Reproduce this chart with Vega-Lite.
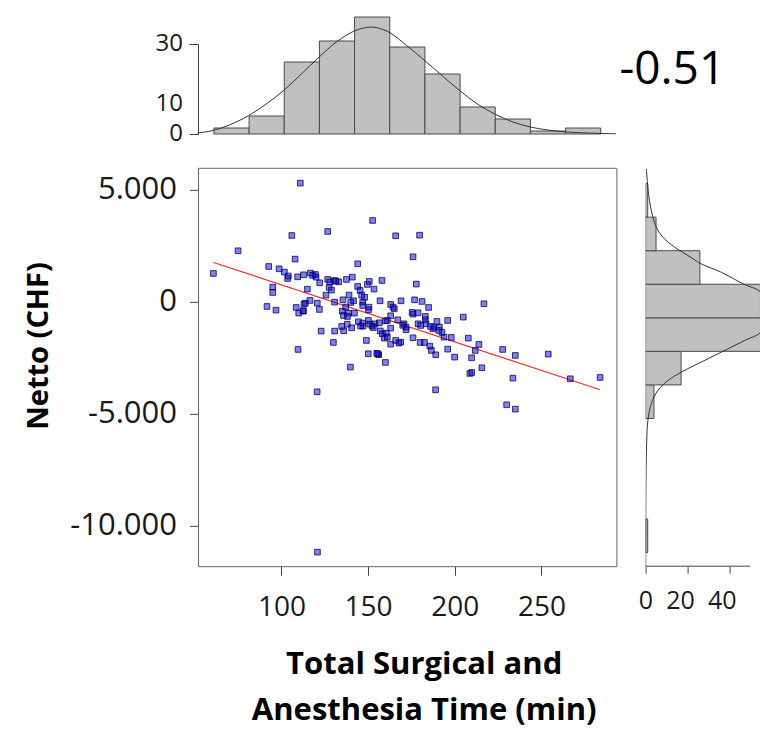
{
  "$schema": "https://vega.github.io/schema/vega-lite/v6.json",
  "padding": {"left": 24, "top": 16, "right": 0, "bottom": 6},
  "background": "white",
  "config": {
    "view": {"stroke": null},
    "font": "Open Sans",
    "axis": {"grid": false, "labelFont": "Open Sans", "titleFont": "Open Sans", "labelColor": "#1a1a1a", "titleColor": "#000000", "tickColor": "#444444", "domainColor": "#444444", "labelOverlap": false, "labelSeparation": 0, "labelFlush": false, "labelBound": false}
  },
  "datasets": {
    "points": [
      {"t":110.9,"n":5297},{"t":152.6,"n":3631},{"t":106.0,"n":2961},{"t":126.7,"n":3140},{"t":165.9,"n":2946},{"t":179.7,"n":2976},
      {"t":75.0,"n":2277},{"t":107.9,"n":1905},{"t":144.0,"n":1696},{"t":175.9,"n":2009},{"t":60.8,"n":1265},{"t":92.7,"n":1577},
      {"t":98.7,"n":1473},{"t":101.7,"n":1324},{"t":103.6,"n":1042},{"t":109.4,"n":1116},{"t":112.8,"n":1205},{"t":116.7,"n":1280},
      {"t":119.6,"n":1220},{"t":120.0,"n":1101},{"t":122.1,"n":848},{"t":126.7,"n":997},{"t":130.5,"n":952},{"t":133.0,"n":893},
      {"t":137.5,"n":997},{"t":140.9,"n":1101},{"t":150.7,"n":908},{"t":158.0,"n":952},{"t":177.8,"n":789},{"t":95.0,"n":655},
      {"t":95.0,"n":417},{"t":115.0,"n":565},{"t":127.5,"n":640},{"t":128.9,"n":521},{"t":144.0,"n":684},{"t":145.4,"n":506},
      {"t":153.4,"n":565},{"t":149.6,"n":774},{"t":91.7,"n":-208},{"t":96.9,"n":-372},{"t":108.5,"n":-253},{"t":110.0,"n":-506},
      {"t":112.7,"n":-417},{"t":113.8,"n":-60},{"t":116.5,"n":60},{"t":120.7,"n":-60},{"t":121.9,"n":-342},{"t":125.7,"n":298},
      {"t":130.7,"n":-15},{"t":135.5,"n":89},{"t":139.0,"n":298},{"t":141.6,"n":45},{"t":146.3,"n":298},{"t":146.9,"n":-15},
      {"t":146.9,"n":-164},{"t":150.5,"n":-238},{"t":156.9,"n":45},{"t":163.0,"n":-119},{"t":165.1,"n":-312},{"t":169.0,"n":45},
      {"t":176.8,"n":89},{"t":181.1,"n":15},{"t":184.9,"n":-253},{"t":216.8,"n":-89},{"t":137.1,"n":-238},{"t":138.7,"n":-506},
      {"t":135.8,"n":-610},{"t":142.1,"n":-506},{"t":144.4,"n":-893},{"t":147.1,"n":-1086},{"t":150.2,"n":-833},{"t":154.0,"n":-982},
      {"t":156.5,"n":-937},{"t":161.1,"n":-833},{"t":163.0,"n":-625},{"t":167.1,"n":-804},{"t":170.7,"n":-982},{"t":171.9,"n":-1250},
      {"t":175.9,"n":-551},{"t":178.8,"n":-491},{"t":183.0,"n":-655},{"t":183.0,"n":-804},{"t":187.4,"n":-1205},{"t":189.7,"n":-878},
      {"t":191.1,"n":-1131},{"t":192.6,"n":-1369},{"t":195.9,"n":-833},{"t":198.0,"n":-1592},{"t":204.9,"n":-684},{"t":207.8,"n":-1622},
      {"t":213.9,"n":-1905},{"t":211.8,"n":-2172},{"t":209.7,"n":-2500},{"t":215.6,"n":-2946},{"t":208.7,"n":-3199},{"t":209.8,"n":-3155},
      {"t":227.6,"n":-2128},{"t":234.9,"n":-2396},{"t":253.9,"n":-2336},{"t":233.5,"n":-3408},{"t":266.6,"n":-3437},{"t":283.8,"n":-3378},
      {"t":229.9,"n":-4598},{"t":234.9,"n":-4791},{"t":188.9,"n":-3928},{"t":120.6,"n":-4018},{"t":120.8,"n":-11175},{"t":109.6,"n":-2128},
      {"t":122.9,"n":-1309},{"t":130.7,"n":-1309},{"t":130.0,"n":-1815},{"t":139.8,"n":-2916},{"t":149.0,"n":-1726},{"t":150.1,"n":-2321},
      {"t":156.1,"n":-2366},{"t":160.0,"n":-2708},{"t":158.2,"n":-1428},{"t":159.4,"n":-1622},{"t":163.0,"n":-1890},{"t":165.9,"n":-1726},
      {"t":168.8,"n":-1800},{"t":175.9,"n":-1607},{"t":180.0,"n":-1815},{"t":182.5,"n":-1815},{"t":185.6,"n":-1979},{"t":186.5,"n":-2172},
      {"t":189.0,"n":-2366},{"t":195.9,"n":-2113},{"t":199.9,"n":-2470},{"t":134.8,"n":-1101},{"t":140.5,"n":-1161},{"t":145.7,"n":-1086},
      {"t":135.9,"n":-1295},{"t":152.3,"n":-1086},{"t":160.5,"n":-1399},{"t":163.0,"n":-1176},{"t":171.9,"n":-1131},{"t":178.8,"n":-982},
      {"t":180.3,"n":-1057},{"t":188.0,"n":-1131},{"t":190.8,"n":-1280},{"t":155.6,"n":-2321},{"t":164.4,"n":-238},{"t":175.4,"n":-476},
      {"t":138.1,"n":-655},{"t":135.1,"n":-417},{"t":140.0,"n":-30},{"t":150.2,"n":-357},{"t":161.1,"n":-1577},{"t":167.8,"n":-1845},
      {"t":183.4,"n":-982},{"t":193.8,"n":-1577},{"t":127.9,"n":878},{"t":131.4,"n":922},{"t":112.5,"n":-400},{"t":104.0,"n":1150},
      {"t":118.0,"n":1180},{"t":113.0,"n":-100},{"t":148.0,"n":200},{"t":138.0,"n":-1000},{"t":147.0,"n":-950},{"t":151.0,"n":-1000},
      {"t":153.0,"n":-1150},{"t":157.0,"n":-1300},{"t":160.0,"n":-850},{"t":170.0,"n":-1050},{"t":186.0,"n":-1100},{"t":155.0,"n":-2300}
    ],
    "regLine": [{"t":60.8,"n":1756},{"t":283.8,"n":-3928}],
    "topHist": [
      {"x0":60.8,"x1":81.08,"count":2},{"x0":81.08,"x1":101.36,"count":6},{"x0":101.36,"x1":121.64,"count":24},
      {"x0":121.64,"x1":141.92,"count":31},{"x0":141.92,"x1":162.2,"count":39},{"x0":162.2,"x1":182.48,"count":29},
      {"x0":182.48,"x1":202.76,"count":20},{"x0":202.76,"x1":223.04,"count":9},{"x0":223.04,"x1":243.32,"count":5},
      {"x0":243.32,"x1":263.6,"count":1},{"x0":263.6,"x1":283.88,"count":2}
    ],
    "topTicks": [{"v":30,"s":"30"},{"v":10,"s":"10"},{"v":0,"s":"0"}],
    "topCurve": [
      {"t":51.6,"c":0.3},{"t":60.8,"c":1.2},{"t":70,"c":3.0},{"t":81,"c":6.1},{"t":91,"c":9.9},{"t":101.5,"c":14.6},
      {"t":111.5,"c":20.0},{"t":121.7,"c":25.6},{"t":132,"c":30.8},{"t":142.3,"c":34.4},{"t":150.5,"c":35.6},{"t":156,"c":35.3},
      {"t":162.5,"c":33.8},{"t":172,"c":29.6},{"t":182.8,"c":24.4},{"t":193,"c":19.3},{"t":203,"c":14.4},{"t":213,"c":10.0},
      {"t":223.6,"c":6.5},{"t":233.5,"c":4.0},{"t":243.8,"c":2.3},{"t":254,"c":1.3},{"t":264,"c":0.7},{"t":278,"c":0.3},{"t":293,"c":0.1}
    ],
    "rightHist": [
      {"y0":-11175,"y1":-9677.5,"count":1},{"y0":-5185,"y1":-3687.5,"count":4},{"y0":-3687.5,"y1":-2190,"count":17},
      {"y0":-2190,"y1":-692.5,"count":60},{"y0":-692.5,"y1":805,"count":55},{"y0":805,"y1":2302.5,"count":26},
      {"y0":2302.5,"y1":3800,"count":5},{"y0":3800,"y1":5297.5,"count":1}
    ],
    "rightCurve": [
      {"v":5938,"c":0.3},{"v":5415,"c":0.8},{"v":4821,"c":1.4},{"v":4223,"c":2.4},{"v":3777,"c":3.5},{"v":3330,"c":5.1},
      {"v":2884,"c":8.3},{"v":2438,"c":13.9},{"v":2067,"c":20.3},{"v":1696,"c":26.6},{"v":1321,"c":36.2},{"v":804,"c":46.6},
      {"v":429,"c":55.3},{"v":-464,"c":61},{"v":-1357,"c":55.3},{"v":-1728,"c":47.4},{"v":-2250,"c":36.2},{"v":-2768,"c":25},
      {"v":-3143,"c":17},{"v":-3513,"c":10.7},{"v":-3960,"c":5.9},{"v":-4554,"c":2.7},{"v":-5299,"c":1.1},{"v":-6339,"c":0.5},
      {"v":-7830,"c":0.2},{"v":-9500,"c":0.1},{"v":-11848,"c":0.05}
    ]
  },
  "columns": 2,
  "spacing": {"row": 33.8, "column": 28.6},
  "bounds": "flush",
  "align": "each",
  "concat": [
    {
      "width": 418.4,
      "height": 90,
      "layer": [
        {
          "data": {"name": "topHist"},
          "mark": {"type": "bar", "fill": "#c0c0c0", "stroke": "#4a4a4a", "strokeWidth": 1, "binSpacing": 0},
          "encoding": {
            "x": {"field": "x0", "type": "quantitative", "bin": {"binned": true}, "scale": {"domain": [51.9, 293.2], "nice": false, "zero": false}, "axis": null},
            "x2": {"field": "x1"},
            "y": {"field": "count", "type": "quantitative", "scale": {"domain": [0, 30], "nice": false}, "axis": {"values": [0, 10, 20, 30], "labels": false, "tickSize": 9, "domain": true, "title": null}}
          }
        },
        {
          "data": {"name": "topCurve"},
          "mark": {"type": "line", "interpolate": "catmull-rom", "stroke": "#333333", "strokeWidth": 1},
          "encoding": {
            "x": {"field": "t", "type": "quantitative", "axis": null},
            "y": {"field": "c", "type": "quantitative"}
          }
        },
        {
          "data": {"name": "topTicks"},
          "mark": {"type": "text", "align": "right", "baseline": "middle", "dx": -15, "fontSize": 24, "font": "Open Sans", "color": "#1a1a1a"},
          "encoding": {
            "x": {"datum": 51.9, "type": "quantitative", "axis": null},
            "y": {"field": "v", "type": "quantitative"},
            "text": {"field": "s"}
          }
        }
      ]
    },
    {
      "width": 53.4,
      "height": 52.6,
      "data": {"values": [{"r": "-0.51"}]},
      "mark": {"type": "text", "fontSize": 46, "font": "Open Sans", "baseline": "middle", "align": "center", "color": "#000000"},
      "encoding": {"text": {"field": "r"}}
    },
    {
      "width": 418.4,
      "height": 398.4,
      "view": {"stroke": "#666666", "strokeWidth": 1},
      "layer": [
        {
          "data": {"name": "regLine"},
          "mark": {"type": "line", "stroke": "#ff2a2a", "strokeWidth": 1.2},
          "encoding": {
            "x": {"field": "t", "type": "quantitative"},
            "y": {"field": "n", "type": "quantitative"}
          }
        },
        {
          "data": {"name": "points"},
          "mark": {"type": "point", "shape": "square", "filled": true, "size": 32, "fill": "#0000ff", "fillOpacity": 0.5, "stroke": "#000033", "strokeWidth": 1, "strokeOpacity": 0.75},
          "encoding": {
            "x": {"field": "t", "type": "quantitative", "scale": {"domain": [51.9, 293.2], "nice": false, "zero": false},
                  "axis": {"values": [100, 150, 200, 250], "tickSize": 9, "labelPadding": 18, "labelFontSize": 28, "domain": false,
                           "title": ["Total Surgical and", "Anesthesia Time (min)"], "titleFontSize": 31, "titleFontWeight": "bold", "titleLineHeight": 46, "titlePadding": 28.5, "titleX": 225.7}},
            "y": {"field": "n", "type": "quantitative", "scale": {"domain": [-11804, 5982], "nice": false, "zero": false},
                  "axis": {"values": [5000, 0, -5000, -10000], "labelExpr": "replace(replace(format(datum.value, ','), ',', '.'), '\u2212', '-')", "tickSize": 8.5, "labelPadding": 13, "labelFontSize": 31, "domain": false,
                           "title": "Netto (CHF)", "titleFontSize": 29, "titleFontWeight": "bold", "titlePadding": 16, "titleY": 177.7}}
          }
        }
      ]
    },
    {
      "width": 115.7,
      "height": 398.4,
      "layer": [
        {
          "data": {"name": "rightHist"},
          "mark": {"type": "bar", "fill": "#c0c0c0", "stroke": "#4a4a4a", "strokeWidth": 1, "binSpacing": 0, "clip": true},
          "encoding": {
            "y": {"field": "y0", "type": "quantitative", "bin": {"binned": true}, "scale": {"domain": [-11804, 5982], "nice": false, "zero": false}, "axis": null},
            "y2": {"field": "y1"},
            "x": {"field": "count", "type": "quantitative", "scale": {"domain": [0, 55.4], "nice": false}, "axis": {"values": [0, 10, 20, 30, 40, 50], "labelExpr": "datum.value % 20 == 0 ? datum.label : ''", "labelAlign": "right", "labelOffset": 7, "tickSize": 7, "labelPadding": 15, "labelFontSize": 25, "domain": false, "title": null}}
          }
        },
        {
          "data": {"name": "rightCurve"},
          "mark": {"type": "line", "interpolate": "catmull-rom", "stroke": "#333333", "strokeWidth": 1, "clip": true},
          "encoding": {
            "y": {"field": "v", "type": "quantitative", "axis": null},
            "x": {"field": "c", "type": "quantitative"},
            "order": {"field": "v", "type": "quantitative"}
          }
        },
        {
          "data": {"values": [{"lo": 0, "hi": 50}]},
          "mark": {"type": "rule", "stroke": "#444444", "strokeWidth": 1},
          "encoding": {
            "x": {"field": "lo", "type": "quantitative"},
            "x2": {"field": "hi"},
            "y": {"value": "height"}
          }
        }
      ]
    }
  ]
}
